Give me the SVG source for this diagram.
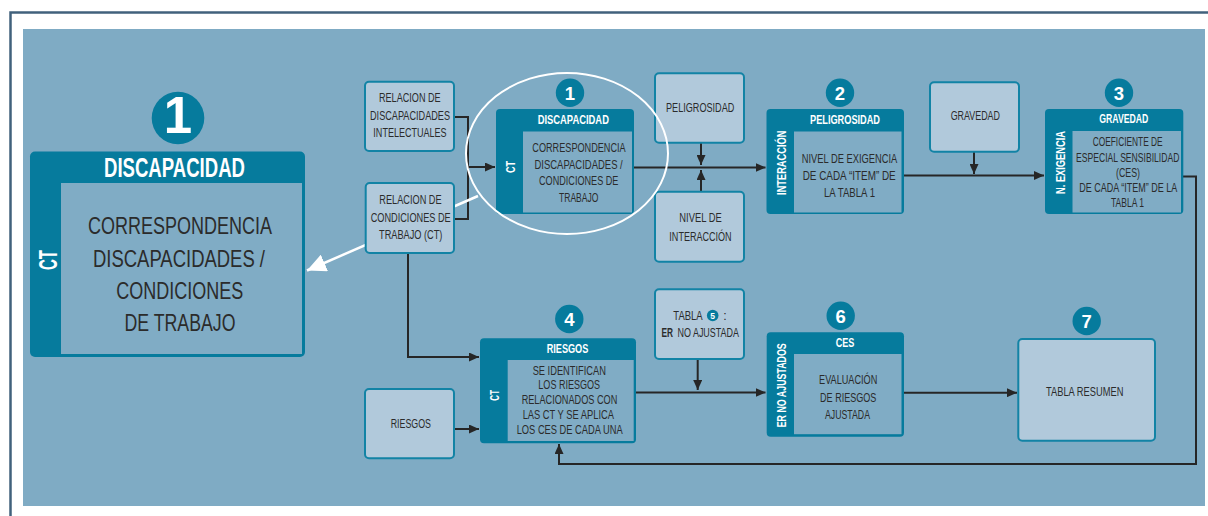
<svg xmlns="http://www.w3.org/2000/svg" width="1208" height="516" viewBox="0 0 1208 516">
  <style>
    .bg { fill: #7fabc4; }
    .box { fill: #b1c9db; stroke: #1283a5; stroke-width: 2; }
    .dark { fill: #067b9d; }
    .inner { fill: #80acc5; }
    .num { fill: #067b9d; }
    .conn { fill: none; stroke: #262626; stroke-width: 2; }
    text { font-family: "Liberation Sans Narrow", "Liberation Sans", Arial, sans-serif; text-anchor: middle; }
    .t { fill: #2b2b2b; font-size: 12.5px; }
    .tb { fill: #2b2b2b; font-size: 24.5px; }
    .h { fill: #ffffff; font-size: 12.5px; font-weight: bold; }
    .v { fill: #ffffff; font-size: 13.5px; font-weight: bold; }
    .d { fill: #ffffff; font-size: 18.5px; font-weight: bold; }
  </style>
  <defs>
    <marker id="arrow" markerUnits="userSpaceOnUse" markerWidth="11" markerHeight="9" refX="10" refY="4.5" orient="auto">
      <path d="M0,0 L10,4.5 L0,9 z" fill="#262626"/>
    </marker>
    <marker id="arrowWhite" markerUnits="userSpaceOnUse" markerWidth="20" markerHeight="18" refX="19" refY="9" orient="auto">
      <path d="M0,0 L19,9 L0,18 z" fill="#ffffff"/>
    </marker>
  </defs>

  <!-- page frame and panel -->
  <rect x="0" y="0" width="1208" height="516" fill="#ffffff"/>
  <path d="M10.5,516 V12.5 H1208" fill="none" stroke="#41617c" stroke-width="2.5"/>
  <rect class="bg" x="23" y="29" width="1182" height="477"/>

  <!-- connectors -->
  <g id="connectors">
    <polyline class="conn" points="454,117 468,117 468,167 495,167" marker-end="url(#arrow)"/>
    <polyline class="conn" points="454,219 468,219 468,167"/>
    <polyline class="conn" points="408,253 408,357 479,357" marker-end="url(#arrow)"/>
    <line class="conn" x1="634" y1="167.5" x2="765.5" y2="167.5" marker-end="url(#arrow)"/>
    <line class="conn" x1="701" y1="143" x2="701" y2="165" marker-end="url(#arrow)"/>
    <line class="conn" x1="701" y1="192" x2="701" y2="170" marker-end="url(#arrow)"/>
    <line class="conn" x1="904" y1="175.5" x2="1044" y2="175.5" marker-end="url(#arrow)"/>
    <line class="conn" x1="974" y1="152" x2="974" y2="174" marker-end="url(#arrow)"/>
    <polyline class="conn" points="1183,176.5 1196,176.5 1196,464 559,464 559,444" marker-end="url(#arrow)"/>
    <line class="conn" x1="454" y1="429" x2="479" y2="429" marker-end="url(#arrow)"/>
    <line class="conn" x1="636" y1="392.5" x2="765.5" y2="392.5" marker-end="url(#arrow)"/>
    <line class="conn" x1="697.7" y1="359" x2="697.7" y2="390" marker-end="url(#arrow)"/>
    <line class="conn" x1="904" y1="392.7" x2="1017" y2="392.7" marker-end="url(#arrow)"/>
    <line x1="478" y1="196" x2="307" y2="270.5" stroke="#ffffff" stroke-width="2.5" marker-end="url(#arrowWhite)"/>
  </g>

  <!-- enlarged step 1 -->
  <g id="step1-detail">
    <circle class="num" cx="178" cy="118" r="26.3"/>
    <text x="178" y="133.3" fill="#ffffff" font-size="51" font-weight="bold">1</text>
    <rect class="dark" x="30" y="151.5" width="275" height="205.5" rx="5"/>
    <rect class="inner" x="61" y="183" width="241" height="171"/>
    <text x="174.5" y="177" fill="#ffffff" font-size="27" font-weight="bold" textLength="141" lengthAdjust="spacingAndGlyphs">DISCAPACIDAD</text>
    <text transform="translate(47.5,260) rotate(-90)" x="0" y="9" fill="#ffffff" font-size="25" font-weight="bold" textLength="20" lengthAdjust="spacingAndGlyphs">CT</text>
    <text class="tb" x="180" y="234" textLength="184" lengthAdjust="spacingAndGlyphs">CORRESPONDENCIA</text>
    <text class="tb" x="179" y="267" textLength="172" lengthAdjust="spacingAndGlyphs">DISCAPACIDADES /</text>
    <text class="tb" x="179.7" y="298.5" textLength="127" lengthAdjust="spacingAndGlyphs">CONDICIONES</text>
    <text class="tb" x="180" y="330.7" textLength="111" lengthAdjust="spacingAndGlyphs">DE TRABAJO</text>
  </g>

  <!-- input boxes -->
  <g id="rel-discapacidades">
    <rect class="box" x="365" y="81.7" width="89" height="69.3" rx="4"/>
    <text class="t" x="409.8" y="102" textLength="61.7" lengthAdjust="spacingAndGlyphs">RELACION DE</text>
    <text class="t" x="410" y="120" textLength="80" lengthAdjust="spacingAndGlyphs">DISCAPACIDADES</text>
    <text class="t" x="410" y="136.7" textLength="73.3" lengthAdjust="spacingAndGlyphs">INTELECTUALES</text>
  </g>
  <g id="rel-condiciones">
    <rect class="box" x="365.7" y="183" width="88.3" height="70" rx="4"/>
    <text class="t" x="410.5" y="204" textLength="62.3" lengthAdjust="spacingAndGlyphs">RELACION DE</text>
    <text class="t" x="410.7" y="221.7" textLength="80" lengthAdjust="spacingAndGlyphs">CONDICIONES DE</text>
    <text class="t" x="410.7" y="239.3" textLength="63.3" lengthAdjust="spacingAndGlyphs">TRABAJO (CT)</text>
  </g>
  <g id="peligrosidad">
    <rect class="box" x="655" y="73.3" width="89" height="69.4" rx="4"/>
    <text class="t" x="700.2" y="111.7" textLength="68.3" lengthAdjust="spacingAndGlyphs">PELIGROSIDAD</text>
  </g>
  <g id="nivel-interaccion">
    <rect class="box" x="655" y="191.7" width="89" height="70" rx="4"/>
    <text class="t" x="700.5" y="222.3" textLength="42.3" lengthAdjust="spacingAndGlyphs">NIVEL DE</text>
    <text class="t" x="700.5" y="240.7" textLength="62.3" lengthAdjust="spacingAndGlyphs">INTERACCIÓN</text>
  </g>
  <g id="gravedad">
    <rect class="box" x="930" y="82.3" width="89" height="69.4" rx="4"/>
    <text class="t" x="975.3" y="120" textLength="49.3" lengthAdjust="spacingAndGlyphs">GRAVEDAD</text>
  </g>
  <g id="riesgos-in">
    <rect class="box" x="365" y="389" width="89" height="69.3" rx="4"/>
    <text class="t" x="410.8" y="427.7" textLength="40.3" lengthAdjust="spacingAndGlyphs">RIESGOS</text>
  </g>
  <g id="tabla5">
    <rect class="box" x="655" y="289.3" width="89" height="69.7" rx="4"/>
    <text class="t" x="688" y="320" textLength="29.3" lengthAdjust="spacingAndGlyphs">TABLA</text>
    <circle class="num" cx="712.7" cy="315.5" r="5.8"/>
    <text x="712.7" y="318.6" fill="#ffffff" font-size="8.5" font-weight="bold">5</text>
    <text class="t" x="725" y="320">:</text>
    <text class="t" x="661.5" y="337.3" font-size="12" font-weight="bold" style="text-anchor:start" textLength="11.5" lengthAdjust="spacingAndGlyphs">ER</text>
    <text class="t" x="677.5" y="337.3" style="text-anchor:start" textLength="61.5" lengthAdjust="spacingAndGlyphs">NO AJUSTADA</text>
  </g>

  <!-- step 1 -->
  <g id="step1">
    <circle class="num" cx="570" cy="92.7" r="14.2"/>
    <text class="d" x="570" y="100">1</text>
    <rect class="dark" x="496" y="109" width="138" height="105" rx="4"/>
    <rect class="inner" x="523" y="131.5" width="109" height="81"/>
    <text class="h" x="573.3" y="124" textLength="71.3" lengthAdjust="spacingAndGlyphs">DISCAPACIDAD</text>
    <text class="v" transform="translate(510,167) rotate(-90)" x="0" y="4.9" textLength="12" lengthAdjust="spacingAndGlyphs">CT</text>
    <text class="t" x="579" y="151.7" textLength="93.3" lengthAdjust="spacingAndGlyphs">CORRESPONDENCIA</text>
    <text class="t" x="578.6" y="168.7" textLength="88.3" lengthAdjust="spacingAndGlyphs">DISCAPACIDADES /</text>
    <text class="t" x="578.7" y="185" textLength="79.3" lengthAdjust="spacingAndGlyphs">CONDICIONES DE</text>
    <text class="t" x="578.7" y="201.7" textLength="39.3" lengthAdjust="spacingAndGlyphs">TRABAJO</text>
  </g>

  <!-- step 2 -->
  <g id="step2">
    <circle class="num" cx="840" cy="92.7" r="14.2"/>
    <text class="d" x="840" y="100">2</text>
    <rect class="dark" x="766.5" y="109" width="137.5" height="105" rx="4"/>
    <rect class="inner" x="794" y="131.5" width="107.5" height="81"/>
    <text class="h" x="845" y="124" textLength="70" lengthAdjust="spacingAndGlyphs">PELIGROSIDAD</text>
    <text class="v" transform="translate(781,162.8) rotate(-90)" x="0" y="4.9" textLength="64.3" lengthAdjust="spacingAndGlyphs">INTERACCIÓN</text>
    <text class="t" x="849.5" y="162.7" textLength="95.7" lengthAdjust="spacingAndGlyphs">NIVEL DE EXIGENCIA</text>
    <text class="t" x="849.2" y="180" textLength="93" lengthAdjust="spacingAndGlyphs">DE CADA “ITEM” DE</text>
    <text class="t" x="849.5" y="196.7" textLength="51" lengthAdjust="spacingAndGlyphs">LA TABLA 1</text>
  </g>

  <!-- step 3 -->
  <g id="step3">
    <circle class="num" cx="1119" cy="92.7" r="14.2"/>
    <text class="d" x="1119" y="100">3</text>
    <rect class="dark" x="1045" y="109" width="138.3" height="105" rx="4"/>
    <rect class="inner" x="1072.5" y="131" width="108.5" height="81.5"/>
    <text class="h" x="1123.8" y="123.3" textLength="49" lengthAdjust="spacingAndGlyphs">GRAVEDAD</text>
    <text class="v" transform="translate(1060,162.5) rotate(-90)" x="0" y="4.9" textLength="63" lengthAdjust="spacingAndGlyphs">N. EXIGENCIA</text>
    <text class="t" x="1127.7" y="146" font-size="11.5" textLength="70" lengthAdjust="spacingAndGlyphs">COEFICIENTE DE</text>
    <text class="t" x="1127.7" y="161.7" font-size="11" textLength="103.3" lengthAdjust="spacingAndGlyphs">ESPECIAL SENSIBILIDAD</text>
    <text class="t" x="1128" y="177.3" font-size="11.5" textLength="24" lengthAdjust="spacingAndGlyphs">(CES)</text>
    <text class="t" x="1128.3" y="192.3" font-size="11" textLength="98" lengthAdjust="spacingAndGlyphs">DE CADA “ITEM” DE LA</text>
    <text class="t" x="1127.5" y="207.3" font-size="11.5" textLength="33" lengthAdjust="spacingAndGlyphs">TABLA 1</text>
  </g>

  <!-- step 4 -->
  <g id="step4">
    <circle class="num" cx="569.3" cy="319" r="14.2"/>
    <text class="d" x="569.3" y="326.3">4</text>
    <rect class="dark" x="480" y="338.3" width="156" height="105" rx="4"/>
    <rect class="inner" x="507.7" y="360" width="126" height="81"/>
    <text class="h" x="567.5" y="353.3" textLength="41.7" lengthAdjust="spacingAndGlyphs">RIESGOS</text>
    <text class="v" transform="translate(493.7,395.3) rotate(-90)" x="0" y="4.9" textLength="10.7" lengthAdjust="spacingAndGlyphs">CT</text>
    <text class="t" x="569.3" y="375" font-size="12" textLength="73.3" lengthAdjust="spacingAndGlyphs">SE IDENTIFICAN</text>
    <text class="t" x="569.2" y="389.3" font-size="12" textLength="61.7" lengthAdjust="spacingAndGlyphs">LOS RIESGOS</text>
    <text class="t" x="569.5" y="404" font-size="12" textLength="95.7" lengthAdjust="spacingAndGlyphs">RELACIONADOS CON</text>
    <text class="t" x="568.3" y="419" font-size="12" textLength="91.3" lengthAdjust="spacingAndGlyphs">LAS CT Y SE APLICA</text>
    <text class="t" x="569.7" y="434" font-size="12" textLength="106" lengthAdjust="spacingAndGlyphs">LOS CES DE CADA UNA</text>
  </g>

  <!-- step 6 -->
  <g id="step6">
    <circle class="num" cx="840.7" cy="315.7" r="14.2"/>
    <text class="d" x="840.7" y="323">6</text>
    <rect class="dark" x="766.7" y="332.3" width="137.3" height="104.4" rx="4"/>
    <rect class="inner" x="794" y="354" width="107.5" height="80.2"/>
    <text class="h" x="845" y="346.7" textLength="18.7" lengthAdjust="spacingAndGlyphs">CES</text>
    <text class="v" transform="translate(781,385.3) rotate(-90)" x="0" y="4.9" textLength="84" lengthAdjust="spacingAndGlyphs">ER NO AJUSTADOS</text>
    <text class="t" x="848.2" y="384.3" textLength="58.3" lengthAdjust="spacingAndGlyphs">EVALUACIÓN</text>
    <text class="t" x="848.2" y="402.3" textLength="56.3" lengthAdjust="spacingAndGlyphs">DE RIESGOS</text>
    <text class="t" x="847.5" y="419.3" textLength="45" lengthAdjust="spacingAndGlyphs">AJUSTADA</text>
  </g>

  <!-- step 7 -->
  <g id="step7">
    <circle class="num" cx="1086.7" cy="321" r="14.2"/>
    <text class="d" x="1086.7" y="328.3">7</text>
    <rect class="box" x="1018.3" y="339" width="136.7" height="101.7" rx="4"/>
    <text class="t" x="1084.7" y="395.7" textLength="77.3" lengthAdjust="spacingAndGlyphs">TABLA RESUMEN</text>
  </g>

  <!-- highlight around step 1 -->
  <ellipse cx="567" cy="153.5" rx="101" ry="80.5" fill="none" stroke="#ffffff" stroke-width="2"/>
</svg>
